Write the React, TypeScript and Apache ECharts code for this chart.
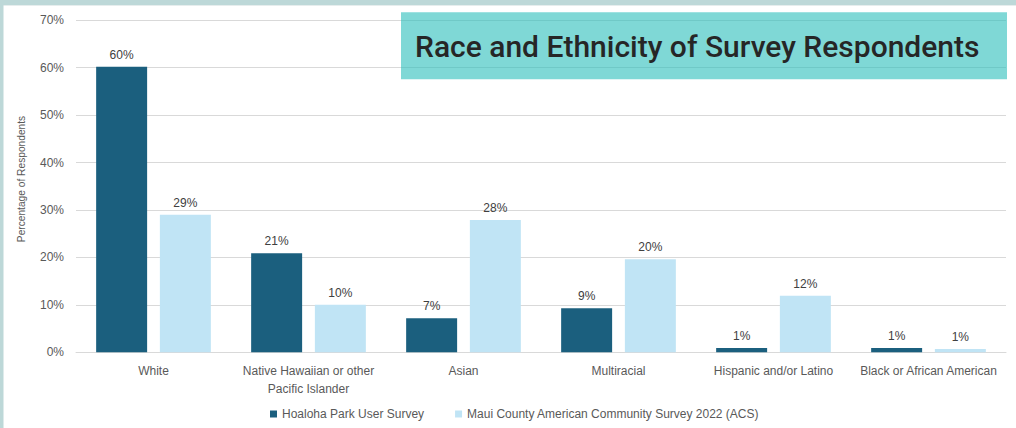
import React, { useEffect, useRef } from "react";
import * as echarts from "echarts";

const categories = [
  "White",
  "Native Hawaiian or other\nPacific Islander",
  "Asian",
  "Multiracial",
  "Hispanic and/or Latino",
  "Black or African American",
];
const seriesNames = [
  "Hoaloha Park User Survey",
  "Maui County American Community Survey 2022 (ACS)",
];
const hoalohaValues = [60.2, 20.9, 7.2, 9.3, 0.9, 0.9];
const acsValues = [29.0, 10.0, 27.9, 19.6, 11.9, 0.7];
const yTicks = [0, 10, 20, 30, 40, 50, 60, 70];
const titleText = "Race and Ethnicity of Survey Respondents";
const yAxisTitle = "Percentage of Respondents";

const DARK = "#1b5f7e";
const LIGHT = "#c0e4f5";
const TEXT = "#595959";

export default function App() {
  const ref = useRef<HTMLDivElement>(null);
  useEffect(() => {
    document.body.style.margin = "0";
    const chart = echarts.init(ref.current!, undefined, { renderer: "svg" });
    const font = "'Liberation Sans', Arial, sans-serif";
    const label = {
      show: true,
      position: "top",
      distance: 6,
      color: "#404040",
      fontSize: 12,
      fontFamily: font,
      formatter: (p: any) => Math.round(p.value) + "%",
    };
    chart.setOption({
      animation: false,
      backgroundColor: "#ffffff",
      textStyle: { fontFamily: font },
      grid: { left: 76, right: 10, top: 20.3, bottom: 75.7, containLabel: false },
      legend: {
        data: seriesNames,
        top: 408,
        left: 270,
        padding: 0,
        itemWidth: 7,
        itemHeight: 7,
        itemGap: 31,
        icon: "rect",
        textStyle: { color: TEXT, fontSize: 12, fontFamily: font },
      },
      xAxis: {
        type: "category",
        data: categories,
        axisTick: { show: false },
        axisLine: { lineStyle: { color: "#d9d9d9", width: 1 } },
        axisLabel: {
          color: TEXT,
          fontSize: 12,
          fontFamily: font,
          margin: 10,
          lineHeight: 18,
          interval: 0,
        },
      },
      yAxis: {
        type: "value",
        min: yTicks[0],
        max: yTicks[yTicks.length - 1],
        interval: 10,
        axisLabel: {
          color: TEXT,
          fontSize: 12,
          fontFamily: font,
          margin: 12,
          formatter: (v: number) => v + "%",
        },
        axisLine: { show: false },
        axisTick: { show: false },
        splitLine: { lineStyle: { color: "#d9d9d9", width: 1 } },
      },
      series: [
        {
          name: seriesNames[0],
          type: "bar",
          data: hoalohaValues,
          itemStyle: { color: DARK },
          barGap: "25%",
          barCategoryGap: "26%",
          label,
        },
        {
          name: seriesNames[1],
          type: "bar",
          data: acsValues,
          itemStyle: { color: LIGHT },
          barGap: "25%",
          barCategoryGap: "26%",
          label,
        },
      ],
      graphic: [
        {
          type: "rect",
          shape: { x: 0, y: 0, width: 1016, height: 5 },
          style: { fill: "#bdd8d8" },
          z: 100,
        },
        {
          type: "rect",
          shape: { x: 0, y: 5, width: 1016, height: 1 },
          style: { fill: "#e6eded" },
          z: 100,
        },
        {
          type: "rect",
          shape: { x: 0, y: 0, width: 3.5, height: 428 },
          style: { fill: "#bdd8d8" },
          z: 100,
        },
        {
          type: "text",
          x: 21,
          y: 179,
          rotation: Math.PI / 2,
          style: {
            text: yAxisTitle,
            fill: TEXT,
            fontSize: 10.2,
            fontFamily: font,
            textAlign: "center",
            verticalAlign: "middle",
          },
          z: 100,
        },
        {
          type: "rect",
          shape: { x: 401, y: 12.3, width: 606, height: 67 },
          style: { fill: "rgba(42,190,187,0.6)" },
          z: 100,
        },
        {
          type: "text",
          x: 415,
          y: 46,
          style: {
            text: titleText,
            fill: "#262626",
            fontSize: 30,
            fontWeight: 500,
            fontFamily: "Roboto, 'Noto Sans', sans-serif",
            verticalAlign: "middle",
            textAlign: "left",
          },
          z: 101,
        },
      ],
    });
    return () => chart.dispose();
  }, []);
  return (
    <div
      ref={ref}
      style={{ position: "absolute", left: 0, top: 0, width: 1016, height: 428 }}
    />
  );
}
